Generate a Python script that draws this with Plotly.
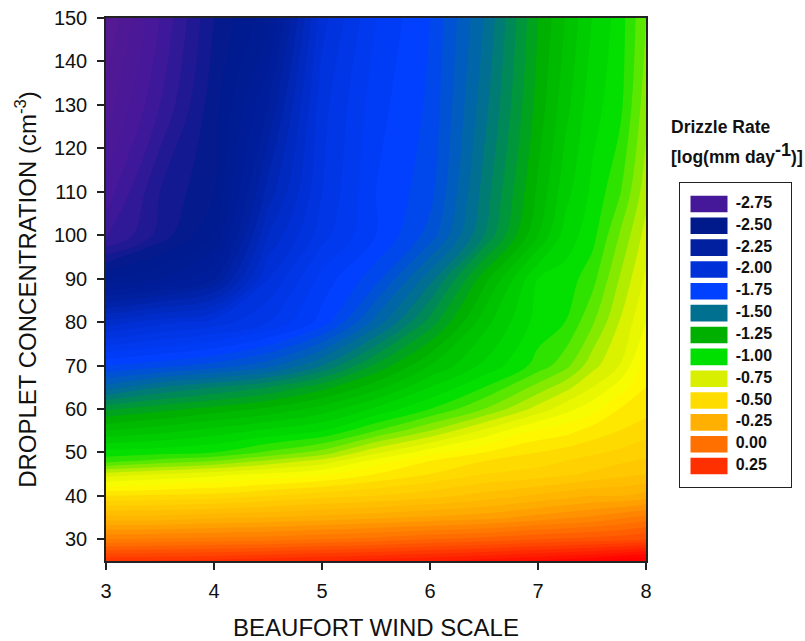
import plotly.graph_objects as go

wind_scale = [3, 3.5, 4, 4.5, 5, 5.5, 6, 6.5, 7, 7.25, 7.5, 7.75, 8]
droplet_conc = [25, 30, 35, 40, 45, 48, 50, 55, 60, 65, 70, 80, 90, 100, 110, 130, 150]
drizzle_rate = [
    [0.20, 0.21, 0.22, 0.24, 0.26, 0.28, 0.30, 0.33, 0.36, 0.38, 0.40, 0.43, 0.46],
    [-0.10, -0.09, -0.08, -0.07, -0.05, -0.03, 0.00, 0.02, 0.05, 0.06, 0.07, 0.08, 0.10],
    [-0.33, -0.33, -0.31, -0.30, -0.28, -0.26, -0.24, -0.22, -0.18, -0.16, -0.14, -0.11, -0.08],
    [-0.55, -0.54, -0.53, -0.50, -0.47, -0.45, -0.42, -0.38, -0.34, -0.32, -0.30, -0.30, -0.28],
    [-0.78, -0.75, -0.72, -0.69, -0.66, -0.60, -0.55, -0.50, -0.48, -0.46, -0.44, -0.42, -0.40],
    [-0.97, -0.93, -0.90, -0.84, -0.78, -0.68, -0.60, -0.55, -0.52, -0.50, -0.48, -0.46, -0.44],
    [-1.03, -1.02, -1.00, -0.94, -0.88, -0.76, -0.67, -0.60, -0.55, -0.53, -0.51, -0.49, -0.47],
    [-1.20, -1.17, -1.13, -1.09, -1.05, -0.95, -0.85, -0.74, -0.64, -0.62, -0.58, -0.55, -0.52],
    [-1.36, -1.32, -1.28, -1.24, -1.18, -1.09, -1.00, -0.90, -0.78, -0.72, -0.67, -0.60, -0.57],
    [-1.58, -1.50, -1.45, -1.40, -1.32, -1.22, -1.10, -1.00, -0.88, -0.82, -0.75, -0.68, -0.60],
    [-1.75, -1.72, -1.68, -1.62, -1.50, -1.34, -1.20, -1.09, -0.98, -0.92, -0.82, -0.75, -0.63],
    [-2.08, -2.02, -1.98, -1.90, -1.78, -1.58, -1.38, -1.17, -1.03, -1.00, -0.91, -0.80, -0.70],
    [-2.45, -2.40, -2.30, -2.00, -1.83, -1.72, -1.52, -1.27, -1.05, -1.03, -0.97, -0.85, -0.74],
    [-2.72, -2.58, -2.45, -2.10, -1.92, -1.80, -1.68, -1.45, -1.20, -1.08, -1.02, -0.90, -0.78],
    [-2.78, -2.60, -2.50, -2.18, -1.95, -1.80, -1.72, -1.48, -1.24, -1.12, -1.04, -0.96, -0.82],
    [-2.88, -2.70, -2.52, -2.30, -1.97, -1.82, -1.74, -1.52, -1.28, -1.17, -1.07, -1.02, -0.87],
    [-2.95, -2.75, -2.55, -2.42, -2.02, -1.85, -1.75, -1.55, -1.30, -1.20, -1.10, -1.03, -0.90],
]

scale_values = [-3.0, -2.75, -2.5, -2.25, -2.0, -1.75, -1.5, -1.25, -1.0, -0.75, -0.62, -0.5, -0.25, 0.0, 0.25, 0.45, 0.55]
scale_colors = ["#5a1a90", "#45189a", "#001a8c", "#0020a0", "#0030d8", "#0040ff", "#007090", "#00b000",
                "#00e000", "#d8f000", "#ffff00", "#ffdc00", "#ffb000", "#ff7000", "#ff3000", "#ff0000", "#ff0000"]

legend_labels = ["-2.75", "-2.50", "-2.25", "-2.00", "-1.75", "-1.50", "-1.25",
                 "-1.00", "-0.75", "-0.50", "-0.25", "0.00", "0.25"]
legend_colors = ["#45189a", "#001a8c", "#0020a0", "#0030d8", "#0040ff", "#007090", "#00b000",
                 "#00e000", "#d8f000", "#ffdc00", "#ffb000", "#ff7000", "#ff3000"]
legend_swatch = [1] * len(legend_labels)
legend_text_x = [1.22] * len(legend_labels)

zlo, zhi = scale_values[0], scale_values[-1]
colorscale = [[(v - zlo) / (zhi - zlo), c] for v, c in zip(scale_values, scale_colors)]

W, H = 805, 641
FONT = "Liberation Sans"
INK = "#222222"
fig = go.Figure()
fig.add_trace(go.Contour(
    x=wind_scale, y=droplet_conc, z=drizzle_rate,
    colorscale=colorscale, zmin=zlo, zmax=zhi, showscale=False,
    contours=dict(coloring="fill", start=-3.0, end=0.55, size=0.05, showlines=False),
    line=dict(width=0), hoverinfo="skip",
))
fig.add_trace(go.Bar(
    x=legend_swatch, y=legend_labels, orientation="h", width=0.76,
    marker=dict(color=legend_colors, line=dict(width=0)),
    xaxis="x2", yaxis="y2", showlegend=False, hoverinfo="skip",
))
fig.add_trace(go.Scatter(
    x=legend_text_x, y=legend_labels, mode="text", text=legend_labels,
    textposition="middle right",
    textfont=dict(family=FONT, size=16, color="#111111", weight="bold"),
    xaxis="x2", yaxis="y2", showlegend=False, hoverinfo="skip", cliponaxis=False,
))

def px(x): return x / W
def py(y): return 1 - y / H

axis_common = dict(showline=True, linecolor=INK, linewidth=1.5, mirror=True, showgrid=False, zeroline=False,
                   ticks="outside", ticklen=7, tickwidth=1.5, tickcolor=INK, automargin=False,
                   tickfont=dict(family=FONT, size=20, color="#111111"))
fig.update_layout(
    width=W, height=H, autosize=False,
    margin=dict(l=0, r=0, t=0, b=0),
    paper_bgcolor="white", plot_bgcolor="white",
    font=dict(family=FONT, color="#111111"),
    showlegend=False,
    xaxis=dict(domain=[px(106), px(646)], range=[3, 8], tickvals=[3, 4, 5, 6, 7, 8],
               anchor="y", ticklabelstandoff=4,
               title=dict(text="BEAUFORT WIND SCALE", font=dict(family=FONT, size=24, color="#111111"), standoff=20),
               **axis_common),
    yaxis=dict(domain=[py(561), py(18)], range=[25, 150], tickvals=list(range(30, 151, 10)),
               anchor="x", ticklabelstandoff=6,
               title=dict(text="DROPLET CONCENTRATION (cm<sup>-3</sup>)", font=dict(family=FONT, size=24, color="#111111"), standoff=10),
               **axis_common),
    xaxis2=dict(domain=[px(680), px(791)], range=[-0.284, 2.716], anchor="y2", showticklabels=False, ticks="",
                automargin=False, showgrid=False, zeroline=False, showline=True, mirror=True, linecolor=INK, linewidth=1),
    yaxis2=dict(domain=[py(487), py(183)], type="category", categoryorder="array", categoryarray=legend_labels,
                range=[12.96, -0.96], automargin=False, anchor="x2", showticklabels=False, ticks="",
                showgrid=False, zeroline=False, showline=True, mirror=True, linecolor=INK, linewidth=1),
    annotations=[
        dict(text="<b>Drizzle Rate</b>", xref="paper", yref="paper", x=px(669), y=py(127), xanchor="left", yanchor="middle",
             showarrow=False, font=dict(family=FONT, size=17.5, color="#111111")),
        dict(text="<b>[log(mm day<sup><span style=\"font-size:18px\">-1</span></sup>)]</b>", xref="paper", yref="paper", x=px(669), y=py(153), xanchor="left", yanchor="middle",
             showarrow=False, font=dict(family=FONT, size=17.5, color="#111111")),
    ],
)
fig.write_html("out.html", post_script="document.body.style.margin='0';", config=dict(displayModeBar=False))
